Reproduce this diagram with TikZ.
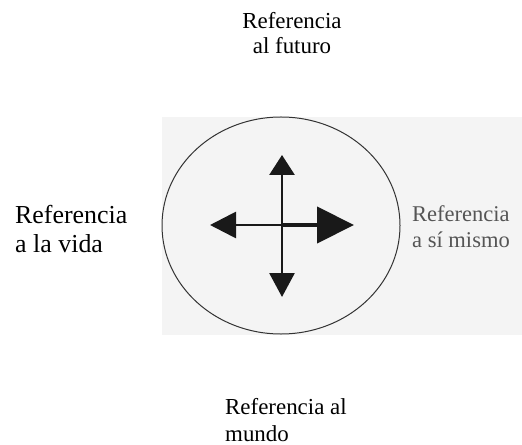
\documentclass[tikz,border=0pt]{standalone}
\usepackage{fontspec}
\setmainfont{Liberation Serif}
\usetikzlibrary{arrows.meta,shapes.geometric}
\definecolor{bgpanel}{HTML}{F4F4F4}
\definecolor{greytext}{HTML}{555555}
\begin{document}
\begin{tikzpicture}[x=1bp,y=-1bp,
  lbl/.style={inner sep=0pt,font=\fontsize{23}{26}\selectfont},
  shaft/.style={line width=2.8bp,black!90}]
\useasboundingbox (0,0) rectangle (522,445);
\fill[bgpanel] (162,117) rectangle (522,335);
\node[draw,line width=1bp,black!80,ellipse,minimum width=238bp,minimum height=217bp,inner sep=0pt] (circ) at (281,225.5) {};
\coordinate (c) at (282,225);
\coordinate (tu) at (282,155);
\coordinate (td) at (282,297);
\coordinate (tl) at (210,225);
\coordinate (tr) at (354,225);
\draw[shaft,-{Triangle[length=20bp,width=25bp]}] (c) -- (tu);
\draw[shaft,-{Triangle[length=24bp,width=25bp]}] (c) -- (td);
\draw[shaft,-{Triangle[length=26bp,width=26bp]}] (c) -- (tl);
\draw[line width=4.2bp,black!90,-{Triangle[length=37bp,width=36bp]}] (c) -- (tr);
\node[lbl,align=center,anchor=base] (top) at (292,54) {Referencia\\al futuro};
\node[lbl,align=left,anchor=base west,font=\fontsize{26}{30}\selectfont] (left) at (15,253) {Referencia\\a la vida};
\node[lbl,align=left,anchor=base west,text=greytext,font=\fontsize{22.6}{27}\selectfont] (right) at (412,248) {Referencia\\a sí mismo};
\node[lbl,align=left,anchor=base west,font=\fontsize{23}{27}\selectfont] (bot) at (225,441) {Referencia al\\mundo};
\end{tikzpicture}
\end{document}
